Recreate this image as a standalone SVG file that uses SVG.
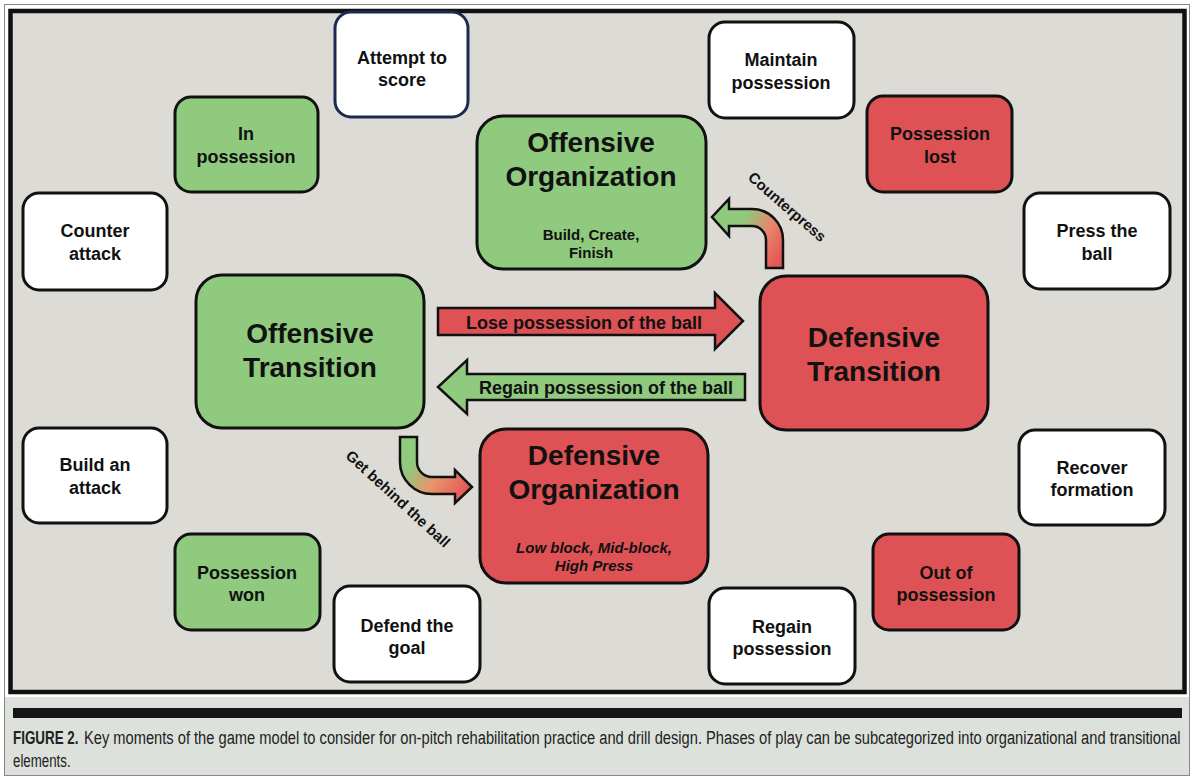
<svg xmlns="http://www.w3.org/2000/svg" width="1200" height="778" viewBox="0 0 1200 778">
<defs>
<style>
.sm{fill:#fff;stroke:#111;stroke-width:3}
.g{fill:#8fca7e;stroke:#111;stroke-width:3}
.r{fill:#de5154;stroke:#111;stroke-width:3}
.t{font-family:"Liberation Sans",Arial,sans-serif;font-weight:bold;font-size:18px;fill:#111;text-anchor:middle}
.big{font-family:"Liberation Sans",Arial,sans-serif;font-weight:bold;font-size:28px;fill:#111;text-anchor:middle}
.sub{font-family:"Liberation Sans",Arial,sans-serif;font-weight:bold;font-size:15px;fill:#111;text-anchor:middle}
.arr{stroke:#111;stroke-width:2.5;stroke-linejoin:miter}
.cap{font-family:"Liberation Sans",Arial,sans-serif;font-size:19px;fill:#222}
</style>
<linearGradient id="gCP" gradientUnits="userSpaceOnUse" x1="785" y1="250" x2="725" y2="215">
<stop offset="0" stop-color="#e35658"/>
<stop offset="0.35" stop-color="#e8866a"/>
<stop offset="0.75" stop-color="#8fca7e"/>
</linearGradient>
<linearGradient id="gGB" gradientUnits="userSpaceOnUse" x1="405" y1="450" x2="470" y2="487">
<stop offset="0.15" stop-color="#8fca7e"/>
<stop offset="0.55" stop-color="#e8946a"/>
<stop offset="1" stop-color="#e35658"/>
</linearGradient>
</defs>
<rect x="0" y="0" width="1200" height="778" fill="#fff"/>
<rect x="4.5" y="4.5" width="1185" height="771" fill="#fff" stroke="#888" stroke-width="1"/>
<rect x="5" y="697" width="1184" height="78" fill="#dde1dc"/>
<rect x="10.5" y="11" width="1174" height="681" fill="#dcdbd6" stroke="#111" stroke-width="4.5"/>
<rect x="13" y="708" width="1169" height="10" fill="#161616"/>
<g id="caption">
<g transform="translate(13,744) scale(0.72,1)"><text class="cap" x="0" y="0" font-weight="bold" textLength="91" lengthAdjust="spacingAndGlyphs">FIGURE 2.</text></g>
<g transform="translate(84,744) scale(0.72,1)"><text class="cap" x="0" y="0" textLength="1523" lengthAdjust="spacingAndGlyphs">Key moments of the game model to consider for on-pitch rehabilitation practice and drill design. Phases of play can be subcategorized into organizational and transitional</text></g>
<g transform="translate(13,767) scale(0.72,1)"><text class="cap" x="0" y="0" textLength="80" lengthAdjust="spacingAndGlyphs">elements.</text></g>
</g>

<g id="connectors">
<g id="lose-arrow">
<path class="arr" fill="#de5154" d="M438,308 L715,308 L715,293 L743,321 L715,349 L715,335 L438,335 Z"/>
<text class="t" x="584" y="329">Lose possession of the ball</text>
</g>
<g id="regain-arrow">
<path class="arr" fill="#8fca7e" d="M745,374 L467,374 L467,360 L438,387 L467,414 L467,400 L745,400 Z"/>
<text class="t" x="606" y="394">Regain possession of the ball</text>
</g>
<g id="counterpress-arrow">
<path class="arr" fill="url(#gCP)" d="M766,268 L766,240 A14,14 0 0 0 752,226 L729,226 L729,236 L712,217 L729,199 L729,209 L752,209 A31,31 0 0 1 783,240 L783,268 Z"/>
<text class="sub" font-size="16" transform="translate(787,207) rotate(41)" y="5">Counterpress</text>
</g>
<g id="behind-arrow">
<path class="arr" fill="url(#gGB)" d="M400,437 L417,437 L417,462 A15,15 0 0 0 432,477 L455,477 L455,470 L472,487 L455,503 L455,494 L432,494 A32,32 0 0 1 400,462 Z"/>
<text class="sub" font-size="15.5" transform="translate(398,499) rotate(42.5)" y="5">Get behind the ball</text>
</g>
</g>

<g id="attempt-to-score"><rect x="335" y="12" width="133" height="105" rx="16" fill="#fff" stroke="#1b2a4e" stroke-width="3"/><text class="t" x="402" y="64">Attempt to</text><text class="t" x="402" y="86">score</text></g>
<g id="maintain-possession"><rect class="sm" x="709" y="22" width="145" height="96" rx="16"/><text class="t" x="781" y="66">Maintain</text><text class="t" x="781" y="89">possession</text></g>
<g id="in-possession"><rect class="g" x="175" y="97" width="143" height="95" rx="16"/><text class="t" x="246" y="140">In</text><text class="t" x="246" y="163">possession</text></g>
<g id="possession-lost"><rect class="r" x="867" y="96" width="145" height="96" rx="16"/><text class="t" x="940" y="140">Possession</text><text class="t" x="940" y="163">lost</text></g>
<g id="counter-attack"><rect class="sm" x="23" y="193" width="144" height="97" rx="16"/><text class="t" x="95" y="237">Counter</text><text class="t" x="95" y="260">attack</text></g>
<g id="press-the-ball"><rect class="sm" x="1024" y="193" width="146" height="96" rx="16"/><text class="t" x="1097" y="237">Press the</text><text class="t" x="1097" y="260">ball</text></g>
<g id="build-an-attack"><rect class="sm" x="23" y="428" width="144" height="95" rx="16"/><text class="t" x="95" y="471">Build an</text><text class="t" x="95" y="494">attack</text></g>
<g id="recover-formation"><rect class="sm" x="1019" y="430" width="146" height="95" rx="16"/><text class="t" x="1092" y="474">Recover</text><text class="t" x="1092" y="496">formation</text></g>
<g id="possession-won"><rect class="g" x="175" y="534" width="145" height="96" rx="16"/><text class="t" x="247" y="579">Possession</text><text class="t" x="247" y="601">won</text></g>
<g id="out-of-possession"><rect class="r" x="873" y="534" width="146" height="96" rx="16"/><text class="t" x="946" y="579">Out of</text><text class="t" x="946" y="601">possession</text></g>
<g id="defend-the-goal"><rect class="sm" x="334" y="586" width="146" height="96" rx="16"/><text class="t" x="407" y="632">Defend the</text><text class="t" x="407" y="654">goal</text></g>
<g id="regain-possession"><rect class="sm" x="709" y="588" width="146" height="96" rx="16"/><text class="t" x="782" y="633">Regain</text><text class="t" x="782" y="655">possession</text></g>

<g id="offensive-organization"><rect class="g" x="477" y="116" width="229" height="153" rx="26"/><text class="big" x="591" y="152">Offensive</text><text class="big" x="591" y="186">Organization</text><text class="sub" x="591" y="240">Build, Create,</text><text class="sub" x="591" y="258">Finish</text></g>
<g id="offensive-transition"><rect class="g" x="196" y="275" width="228" height="153" rx="26"/><text class="big" x="310" y="343">Offensive</text><text class="big" x="310" y="377">Transition</text></g>
<g id="defensive-transition"><rect class="r" x="760" y="276" width="228" height="154" rx="26"/><text class="big" x="874" y="347">Defensive</text><text class="big" x="874" y="381">Transition</text></g>
<g id="defensive-organization"><rect class="r" x="480" y="429" width="228" height="154" rx="26"/><text class="big" x="594" y="465">Defensive</text><text class="big" x="594" y="499">Organization</text><text class="sub" x="594" y="553" font-style="italic">Low block, Mid-block,</text><text class="sub" x="594" y="571" font-style="italic">High Press</text></g>
</svg>
